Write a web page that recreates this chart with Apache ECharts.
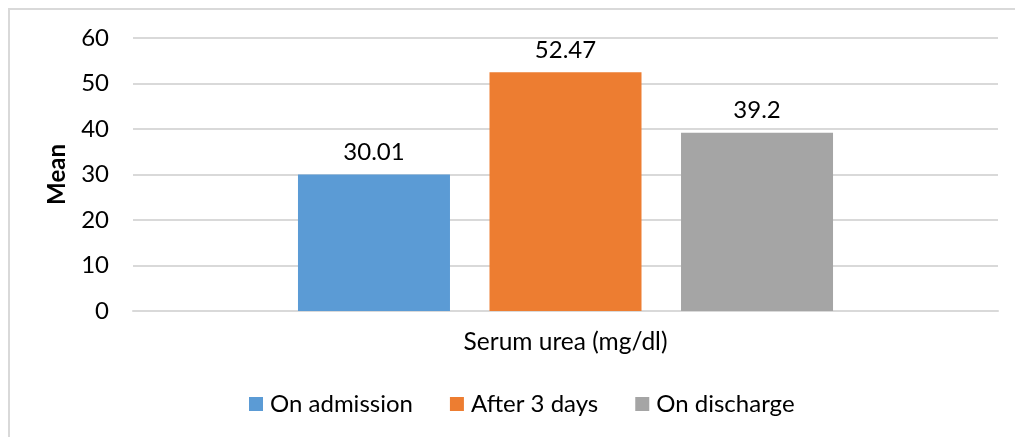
<!DOCTYPE html>
<html>
<head>
<meta charset="utf-8">
<script src="https://cdn.jsdelivr.net/npm/echarts@6/dist/echarts.min.js"></script>
<style>
    html, body { margin: 0; padding: 0; background: #fff; }
</style>
</head>
<body>
<div id="main" style="width: 1015px;height:437px;"></div>
<script type="text/javascript">
    var categories = ['Serum urea (mg/dl)'];
    var seriesNames = ['On admission', 'After 3 days', 'On discharge'];
    var onAdmission = [30.01];
    var after3Days = [52.47];
    var onDischarge = [39.2];
    var yTicks = [0, 10, 20, 30, 40, 50, 60];

    var FONT = 'Lato';
    var myChart = echarts.init(document.getElementById('main'));

    var labelStyle = {
        show: true,
        position: 'top',
        distance: 10,
        color: '#000',
        fontFamily: FONT,
        fontSize: 24
    };

    var option = {
        animation: false,
        color: ['#5B9BD5', '#ED7D31', '#A5A5A5'],
        graphic: [{
            type: 'rect',
            shape: { x: 9, y: 9, width: 1100, height: 500 },
            style: { fill: 'none', stroke: '#d9d9d9', lineWidth: 2 },
            silent: true
        }],
        grid: {
            left: 133,
            right: 17,
            top: 38,
            bottom: 126
        },
        legend: {
            data: seriesNames,
            left: 244,
            top: 387,
            itemWidth: 14,
            itemHeight: 14,
            itemGap: 37,
            icon: 'rect',
            textStyle: {
                color: '#000',
                fontFamily: FONT,
                fontSize: 24,
                padding: [0, 0, 0, 2]
            }
        },
        xAxis: {
            type: 'category',
            data: categories,
            axisLine: { lineStyle: { color: '#d9d9d9', width: 2 } },
            axisTick: { show: false },
            axisLabel: {
                color: '#000',
                fontFamily: FONT,
                fontSize: 24.5,
                margin: 19
            }
        },
        yAxis: {
            type: 'value',
            min: yTicks[0],
            max: yTicks[yTicks.length - 1],
            interval: 10,
            name: 'Mean',
            nameLocation: 'middle',
            nameGap: 64,
            nameRotate: 90,
            nameTextStyle: {
                color: '#000',
                fontFamily: FONT,
                fontWeight: 'bold',
                fontSize: 24
            },
            axisLine: { show: false },
            axisTick: { show: false },
            axisLabel: {
                color: '#000',
                fontFamily: FONT,
                fontSize: 24,
                margin: 24
            },
            splitLine: { lineStyle: { color: '#d9d9d9', width: 2 } }
        },
        series: [
            {
                name: seriesNames[0],
                type: 'bar',
                barWidth: 152,
                barGap: '26%',
                data: onAdmission,
                label: labelStyle
            },
            {
                name: seriesNames[1],
                type: 'bar',
                barWidth: 152,
                barGap: '26%',
                data: after3Days,
                label: labelStyle
            },
            {
                name: seriesNames[2],
                type: 'bar',
                barWidth: 152,
                barGap: '26%',
                data: onDischarge,
                label: labelStyle
            }
        ]
    };

    myChart.setOption(option);
</script>
</body>
</html>
